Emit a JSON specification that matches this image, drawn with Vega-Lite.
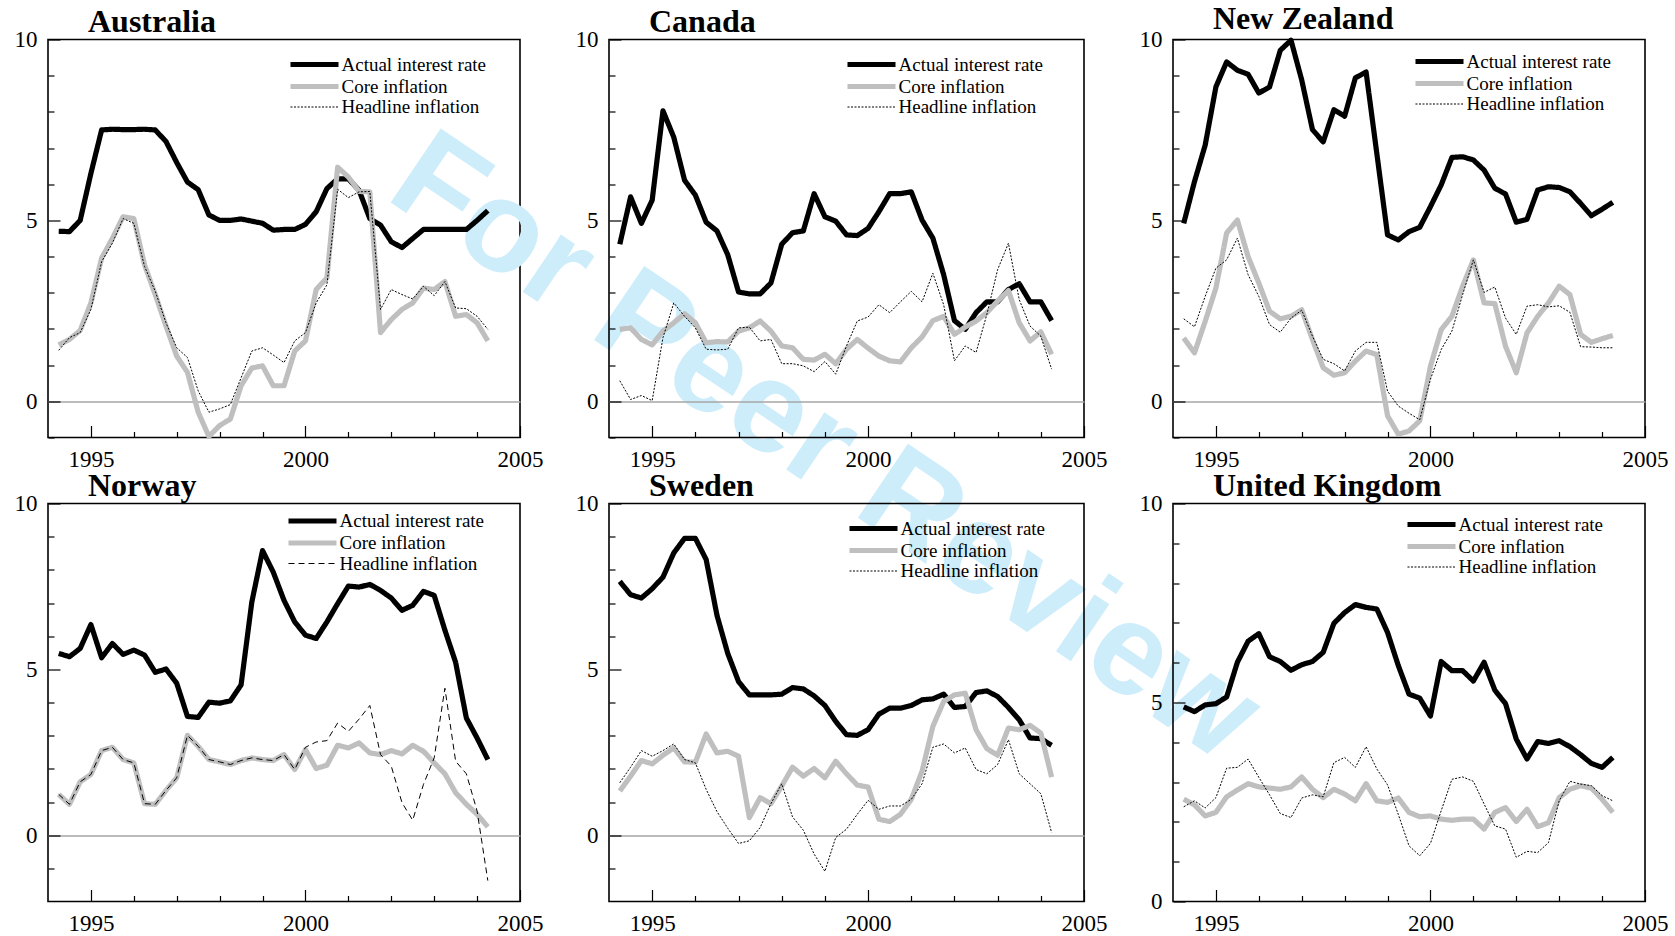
{
"$schema":"https://vega.github.io/schema/vega-lite/v6.json",
"padding":{"left":13,"top":1.5,"right":5,"bottom":0},
"data":{"values":[
{"country":"Australia","date":1994.25,"rate":4.7,"core":1.56,"headline":1.41},
{"country":"Australia","date":1994.5,"rate":4.69,"core":1.71,"headline":1.76},
{"country":"Australia","date":1994.75,"rate":5.0,"core":1.96,"headline":1.9},
{"country":"Australia","date":1995,"rate":6.3,"core":2.72,"headline":2.54},
{"country":"Australia","date":1995.25,"rate":7.5,"core":3.96,"headline":3.86},
{"country":"Australia","date":1995.5,"rate":7.52,"core":4.5,"headline":4.37},
{"country":"Australia","date":1995.75,"rate":7.51,"core":5.1,"headline":5.05},
{"country":"Australia","date":1996,"rate":7.51,"core":5.05,"headline":4.92},
{"country":"Australia","date":1996.25,"rate":7.52,"core":3.77,"headline":3.73},
{"country":"Australia","date":1996.5,"rate":7.5,"core":2.95,"headline":3.04},
{"country":"Australia","date":1996.75,"rate":7.18,"core":2.08,"headline":2.17},
{"country":"Australia","date":1997,"rate":6.6,"core":1.25,"headline":1.48},
{"country":"Australia","date":1997.25,"rate":6.06,"core":0.8,"headline":1.21},
{"country":"Australia","date":1997.5,"rate":5.85,"core":-0.3,"headline":0.29},
{"country":"Australia","date":1997.75,"rate":5.15,"core":-0.97,"headline":-0.3},
{"country":"Australia","date":1998,"rate":5.0,"core":-0.67,"headline":-0.21},
{"country":"Australia","date":1998.25,"rate":5.0,"core":-0.49,"headline":-0.09},
{"country":"Australia","date":1998.5,"rate":5.04,"core":0.43,"headline":0.65},
{"country":"Australia","date":1998.75,"rate":4.98,"core":0.92,"headline":1.39},
{"country":"Australia","date":1999,"rate":4.92,"core":0.98,"headline":1.48},
{"country":"Australia","date":1999.25,"rate":4.73,"core":0.43,"headline":1.28},
{"country":"Australia","date":1999.5,"rate":4.75,"core":0.43,"headline":1.07},
{"country":"Australia","date":1999.75,"rate":4.75,"core":1.39,"headline":1.67},
{"country":"Australia","date":2000,"rate":4.89,"core":1.67,"headline":1.9},
{"country":"Australia","date":2000.25,"rate":5.24,"core":3.09,"headline":2.72},
{"country":"Australia","date":2000.5,"rate":5.88,"core":3.41,"headline":3.22},
{"country":"Australia","date":2000.75,"rate":6.15,"core":6.47,"headline":5.86},
{"country":"Australia","date":2001,"rate":6.15,"core":6.2,"headline":5.63},
{"country":"Australia","date":2001.25,"rate":5.83,"core":5.8,"headline":5.79},
{"country":"Australia","date":2001.5,"rate":5.05,"core":5.79,"headline":5.8},
{"country":"Australia","date":2001.75,"rate":4.87,"core":1.9,"headline":2.54},
{"country":"Australia","date":2002,"rate":4.41,"core":2.26,"headline":3.09},
{"country":"Australia","date":2002.25,"rate":4.25,"core":2.54,"headline":2.95},
{"country":"Australia","date":2002.5,"rate":4.5,"core":2.72,"headline":2.83},
{"country":"Australia","date":2002.75,"rate":4.75,"core":3.13,"headline":3.18},
{"country":"Australia","date":2003,"rate":4.75,"core":3.09,"headline":2.92},
{"country":"Australia","date":2003.25,"rate":4.75,"core":3.31,"headline":3.31},
{"country":"Australia","date":2003.5,"rate":4.75,"core":2.35,"headline":2.58},
{"country":"Australia","date":2003.75,"rate":4.75,"core":2.4,"headline":2.56},
{"country":"Australia","date":2004,"rate":5.0,"core":2.17,"headline":2.35},
{"country":"Australia","date":2004.25,"rate":5.27,"core":1.67,"headline":1.99},
{"country":"Canada","date":1994.25,"rate":4.34,"core":1.99,"headline":0.57},
{"country":"Canada","date":1994.5,"rate":5.65,"core":2.03,"headline":0.05},
{"country":"Canada","date":1994.75,"rate":4.92,"core":1.71,"headline":0.16},
{"country":"Canada","date":1995,"rate":5.56,"core":1.56,"headline":0.02},
{"country":"Canada","date":1995.25,"rate":8.03,"core":1.94,"headline":1.76},
{"country":"Canada","date":1995.5,"rate":7.3,"core":2.17,"headline":2.72},
{"country":"Canada","date":1995.75,"rate":6.11,"core":2.42,"headline":2.35},
{"country":"Canada","date":1996,"rate":5.7,"core":2.17,"headline":2.03},
{"country":"Canada","date":1996.25,"rate":4.95,"core":1.62,"headline":1.44},
{"country":"Canada","date":1996.5,"rate":4.71,"core":1.65,"headline":1.42},
{"country":"Canada","date":1996.75,"rate":4.05,"core":1.64,"headline":1.44},
{"country":"Canada","date":1997,"rate":3.02,"core":1.94,"headline":2.03},
{"country":"Canada","date":1997.25,"rate":2.97,"core":2.03,"headline":2.05},
{"country":"Canada","date":1997.5,"rate":2.97,"core":2.22,"headline":1.67},
{"country":"Canada","date":1997.75,"rate":3.27,"core":1.94,"headline":1.71},
{"country":"Canada","date":1998,"rate":4.34,"core":1.53,"headline":1.04},
{"country":"Canada","date":1998.25,"rate":4.66,"core":1.48,"headline":1.04},
{"country":"Canada","date":1998.5,"rate":4.71,"core":1.16,"headline":0.98},
{"country":"Canada","date":1998.75,"rate":5.74,"core":1.14,"headline":0.82},
{"country":"Canada","date":1999,"rate":5.1,"core":1.3,"headline":1.1},
{"country":"Canada","date":1999.25,"rate":4.98,"core":1.04,"headline":0.75},
{"country":"Canada","date":1999.5,"rate":4.6,"core":1.44,"headline":1.53},
{"country":"Canada","date":1999.75,"rate":4.58,"core":1.71,"headline":2.22},
{"country":"Canada","date":2000,"rate":4.78,"core":1.47,"headline":2.33},
{"country":"Canada","date":2000.25,"rate":5.24,"core":1.25,"headline":2.67},
{"country":"Canada","date":2000.5,"rate":5.74,"core":1.12,"headline":2.45},
{"country":"Canada","date":2000.75,"rate":5.74,"core":1.09,"headline":2.75},
{"country":"Canada","date":2001,"rate":5.79,"core":1.48,"headline":3.04},
{"country":"Canada","date":2001.25,"rate":5.01,"core":1.78,"headline":2.75},
{"country":"Canada","date":2001.5,"rate":4.51,"core":2.23,"headline":3.54},
{"country":"Canada","date":2001.75,"rate":3.5,"core":2.35,"headline":2.67},
{"country":"Canada","date":2002,"rate":2.23,"core":1.85,"headline":1.12},
{"country":"Canada","date":2002.25,"rate":1.99,"core":2.05,"headline":1.53},
{"country":"Canada","date":2002.5,"rate":2.45,"core":2.22,"headline":1.35},
{"country":"Canada","date":2002.75,"rate":2.75,"core":2.45,"headline":2.4},
{"country":"Canada","date":2003,"rate":2.75,"core":2.77,"headline":3.64},
{"country":"Canada","date":2003.25,"rate":3.09,"core":3.06,"headline":4.37},
{"country":"Canada","date":2003.5,"rate":3.25,"core":2.17,"headline":2.81},
{"country":"Canada","date":2003.75,"rate":2.75,"core":1.67,"headline":2.08},
{"country":"Canada","date":2004,"rate":2.75,"core":1.92,"headline":1.8},
{"country":"Canada","date":2004.25,"rate":2.23,"core":1.3,"headline":0.89},
{"country":"New Zealand","date":1994.25,"rate":4.92,"core":1.75,"headline":2.28},
{"country":"New Zealand","date":1994.5,"rate":6.07,"core":1.34,"headline":2.06},
{"country":"New Zealand","date":1994.75,"rate":7.08,"core":2.21,"headline":2.9},
{"country":"New Zealand","date":1995,"rate":8.69,"core":3.13,"headline":3.68},
{"country":"New Zealand","date":1995.25,"rate":9.38,"core":4.65,"headline":3.91},
{"country":"New Zealand","date":1995.5,"rate":9.15,"core":5.01,"headline":4.51},
{"country":"New Zealand","date":1995.75,"rate":9.04,"core":4.0,"headline":3.5},
{"country":"New Zealand","date":1996,"rate":8.52,"core":3.27,"headline":2.9},
{"country":"New Zealand","date":1996.25,"rate":8.69,"core":2.49,"headline":2.12},
{"country":"New Zealand","date":1996.5,"rate":9.7,"core":2.28,"headline":1.91},
{"country":"New Zealand","date":1996.75,"rate":9.98,"core":2.35,"headline":2.3},
{"country":"New Zealand","date":1997,"rate":8.88,"core":2.53,"headline":2.52},
{"country":"New Zealand","date":1997.25,"rate":7.51,"core":1.71,"headline":1.8},
{"country":"New Zealand","date":1997.5,"rate":7.17,"core":0.93,"headline":1.16},
{"country":"New Zealand","date":1997.75,"rate":8.06,"core":0.72,"headline":1.04},
{"country":"New Zealand","date":1998,"rate":7.88,"core":0.79,"headline":0.84},
{"country":"New Zealand","date":1998.25,"rate":8.94,"core":1.11,"headline":1.39},
{"country":"New Zealand","date":1998.5,"rate":9.1,"core":1.39,"headline":1.63},
{"country":"New Zealand","date":1998.75,"rate":6.85,"core":1.29,"headline":1.63},
{"country":"New Zealand","date":1999,"rate":4.6,"core":-0.4,"headline":0.28},
{"country":"New Zealand","date":1999.25,"rate":4.46,"core":-0.91,"headline":-0.13},
{"country":"New Zealand","date":1999.5,"rate":4.69,"core":-0.82,"headline":-0.33},
{"country":"New Zealand","date":1999.75,"rate":4.81,"core":-0.54,"headline":-0.51},
{"country":"New Zealand","date":2000,"rate":5.38,"core":0.97,"headline":0.61},
{"country":"New Zealand","date":2000.25,"rate":5.98,"core":1.98,"headline":1.43},
{"country":"New Zealand","date":2000.5,"rate":6.74,"core":2.35,"headline":1.94},
{"country":"New Zealand","date":2000.75,"rate":6.76,"core":3.18,"headline":2.95},
{"country":"New Zealand","date":2001,"rate":6.67,"core":3.91,"headline":3.91},
{"country":"New Zealand","date":2001.25,"rate":6.39,"core":2.72,"headline":3.01},
{"country":"New Zealand","date":2001.5,"rate":5.89,"core":2.7,"headline":3.16},
{"country":"New Zealand","date":2001.75,"rate":5.73,"core":1.52,"headline":2.3},
{"country":"New Zealand","date":2002,"rate":4.95,"core":0.79,"headline":1.85},
{"country":"New Zealand","date":2002.25,"rate":5.03,"core":1.89,"headline":2.63},
{"country":"New Zealand","date":2002.5,"rate":5.84,"core":2.35,"headline":2.67},
{"country":"New Zealand","date":2002.75,"rate":5.93,"core":2.72,"headline":2.61},
{"country":"New Zealand","date":2003,"rate":5.91,"core":3.18,"headline":2.64},
{"country":"New Zealand","date":2003.25,"rate":5.79,"core":2.95,"headline":2.46},
{"country":"New Zealand","date":2003.5,"rate":5.47,"core":1.85,"headline":1.51},
{"country":"New Zealand","date":2003.75,"rate":5.13,"core":1.63,"headline":1.5},
{"country":"New Zealand","date":2004,"rate":5.31,"core":1.73,"headline":1.48},
{"country":"New Zealand","date":2004.25,"rate":5.5,"core":1.82,"headline":1.48},
{"country":"Norway","date":1994.25,"rate":5.48,"core":1.23,"headline":1.23},
{"country":"Norway","date":1994.5,"rate":5.38,"core":0.93,"headline":0.93},
{"country":"Norway","date":1994.75,"rate":5.63,"core":1.61,"headline":1.61},
{"country":"Norway","date":1995,"rate":6.35,"core":1.83,"headline":1.83},
{"country":"Norway","date":1995.25,"rate":5.35,"core":2.55,"headline":2.55},
{"country":"Norway","date":1995.5,"rate":5.78,"core":2.65,"headline":2.65},
{"country":"Norway","date":1995.75,"rate":5.45,"core":2.28,"headline":2.28},
{"country":"Norway","date":1996,"rate":5.58,"core":2.18,"headline":2.18},
{"country":"Norway","date":1996.25,"rate":5.43,"core":0.95,"headline":0.95},
{"country":"Norway","date":1996.5,"rate":4.91,"core":0.93,"headline":0.93},
{"country":"Norway","date":1996.75,"rate":5.01,"core":1.35,"headline":1.35},
{"country":"Norway","date":1997,"rate":4.58,"core":1.73,"headline":1.73},
{"country":"Norway","date":1997.25,"rate":3.58,"core":3.01,"headline":3.01},
{"country":"Norway","date":1997.5,"rate":3.55,"core":2.68,"headline":2.68},
{"country":"Norway","date":1997.75,"rate":4.01,"core":2.28,"headline":2.28},
{"country":"Norway","date":1998,"rate":3.98,"core":2.21,"headline":2.21},
{"country":"Norway","date":1998.25,"rate":4.05,"core":2.13,"headline":2.13},
{"country":"Norway","date":1998.5,"rate":4.53,"core":2.25,"headline":2.25},
{"country":"Norway","date":1998.75,"rate":7.03,"core":2.33,"headline":2.33},
{"country":"Norway","date":1999,"rate":8.58,"core":2.28,"headline":2.28},
{"country":"Norway","date":1999.25,"rate":7.93,"core":2.25,"headline":2.25},
{"country":"Norway","date":1999.5,"rate":7.08,"core":2.43,"headline":2.43},
{"country":"Norway","date":1999.75,"rate":6.43,"core":1.98,"headline":1.98},
{"country":"Norway","date":2000,"rate":6.03,"core":2.58,"headline":2.65},
{"country":"Norway","date":2000.25,"rate":5.93,"core":2.01,"headline":2.81},
{"country":"Norway","date":2000.5,"rate":6.43,"core":2.11,"headline":2.85},
{"country":"Norway","date":2000.75,"rate":6.98,"core":2.71,"headline":3.38},
{"country":"Norway","date":2001,"rate":7.51,"core":2.63,"headline":3.13},
{"country":"Norway","date":2001.25,"rate":7.48,"core":2.78,"headline":3.5},
{"country":"Norway","date":2001.5,"rate":7.56,"core":2.48,"headline":3.91},
{"country":"Norway","date":2001.75,"rate":7.38,"core":2.43,"headline":2.43},
{"country":"Norway","date":2002,"rate":7.15,"core":2.55,"headline":2.08},
{"country":"Norway","date":2002.25,"rate":6.78,"core":2.45,"headline":0.98},
{"country":"Norway","date":2002.5,"rate":6.93,"core":2.71,"headline":0.45},
{"country":"Norway","date":2002.75,"rate":7.35,"core":2.53,"headline":1.53},
{"country":"Norway","date":2003,"rate":7.23,"core":2.18,"headline":2.33},
{"country":"Norway","date":2003.25,"rate":6.18,"core":1.85,"headline":4.43},
{"country":"Norway","date":2003.5,"rate":5.21,"core":1.28,"headline":2.23},
{"country":"Norway","date":2003.75,"rate":3.53,"core":0.93,"headline":1.85},
{"country":"Norway","date":2004,"rate":2.93,"core":0.63,"headline":0.73},
{"country":"Norway","date":2004.25,"rate":2.28,"core":0.25,"headline":-1.37},
{"country":"Sweden","date":1994.25,"rate":7.65,"core":1.33,"headline":1.58},
{"country":"Sweden","date":1994.5,"rate":7.25,"core":1.78,"headline":2.05},
{"country":"Sweden","date":1994.75,"rate":7.15,"core":2.25,"headline":2.55},
{"country":"Sweden","date":1995,"rate":7.43,"core":2.15,"headline":2.38},
{"country":"Sweden","date":1995.25,"rate":7.78,"core":2.41,"headline":2.55},
{"country":"Sweden","date":1995.5,"rate":8.51,"core":2.63,"headline":2.75},
{"country":"Sweden","date":1995.75,"rate":8.95,"core":2.21,"headline":2.28},
{"country":"Sweden","date":1996,"rate":8.95,"core":2.2,"headline":2.18},
{"country":"Sweden","date":1996.25,"rate":8.31,"core":3.05,"headline":1.38},
{"country":"Sweden","date":1996.5,"rate":6.63,"core":2.48,"headline":0.71},
{"country":"Sweden","date":1996.75,"rate":5.48,"core":2.53,"headline":0.21},
{"country":"Sweden","date":1997,"rate":4.63,"core":2.38,"headline":-0.25},
{"country":"Sweden","date":1997.25,"rate":4.23,"core":0.53,"headline":-0.17},
{"country":"Sweden","date":1997.5,"rate":4.23,"core":1.13,"headline":0.23},
{"country":"Sweden","date":1997.75,"rate":4.23,"core":0.95,"headline":0.95},
{"country":"Sweden","date":1998,"rate":4.25,"core":1.48,"headline":1.55},
{"country":"Sweden","date":1998.25,"rate":4.45,"core":2.05,"headline":0.55},
{"country":"Sweden","date":1998.5,"rate":4.41,"core":1.78,"headline":0.15},
{"country":"Sweden","date":1998.75,"rate":4.2,"core":2.01,"headline":-0.57},
{"country":"Sweden","date":1999,"rate":3.91,"core":1.73,"headline":-1.09},
{"country":"Sweden","date":1999.25,"rate":3.43,"core":2.23,"headline":-0.07},
{"country":"Sweden","date":1999.5,"rate":3.03,"core":1.85,"headline":0.18},
{"country":"Sweden","date":1999.75,"rate":3.01,"core":1.51,"headline":0.63},
{"country":"Sweden","date":2000,"rate":3.18,"core":1.45,"headline":1.05},
{"country":"Sweden","date":2000.25,"rate":3.65,"core":0.48,"headline":0.78},
{"country":"Sweden","date":2000.5,"rate":3.83,"core":0.41,"headline":0.88},
{"country":"Sweden","date":2000.75,"rate":3.83,"core":0.63,"headline":0.88},
{"country":"Sweden","date":2001,"rate":3.91,"core":1.08,"headline":1.08},
{"country":"Sweden","date":2001.25,"rate":4.08,"core":1.93,"headline":1.55},
{"country":"Sweden","date":2001.5,"rate":4.11,"core":3.28,"headline":2.65},
{"country":"Sweden","date":2001.75,"rate":4.25,"core":4.03,"headline":2.75},
{"country":"Sweden","date":2002,"rate":3.85,"core":4.23,"headline":2.48},
{"country":"Sweden","date":2002.25,"rate":3.88,"core":4.28,"headline":2.63},
{"country":"Sweden","date":2002.5,"rate":4.3,"core":3.18,"headline":1.98},
{"country":"Sweden","date":2002.75,"rate":4.35,"core":2.61,"headline":1.85},
{"country":"Sweden","date":2003,"rate":4.18,"core":2.41,"headline":2.13},
{"country":"Sweden","date":2003.25,"rate":3.85,"core":3.23,"headline":2.88},
{"country":"Sweden","date":2003.5,"rate":3.48,"core":3.18,"headline":1.85},
{"country":"Sweden","date":2003.75,"rate":2.93,"core":3.31,"headline":1.55},
{"country":"Sweden","date":2004,"rate":2.91,"core":3.08,"headline":1.25},
{"country":"Sweden","date":2004.25,"rate":2.71,"core":1.75,"headline":0.08},
{"country":"United Kingdom","date":1994.25,"rate":4.89,"core":2.57,"headline":2.38},
{"country":"United Kingdom","date":1994.5,"rate":4.77,"core":2.43,"headline":2.53},
{"country":"United Kingdom","date":1994.75,"rate":4.94,"core":2.15,"headline":2.35},
{"country":"United Kingdom","date":1995,"rate":4.97,"core":2.24,"headline":2.61},
{"country":"United Kingdom","date":1995.25,"rate":5.14,"core":2.63,"headline":3.35},
{"country":"United Kingdom","date":1995.5,"rate":6.01,"core":2.8,"headline":3.37},
{"country":"United Kingdom","date":1995.75,"rate":6.54,"core":2.96,"headline":3.58},
{"country":"United Kingdom","date":1996,"rate":6.73,"core":2.88,"headline":3.12},
{"country":"United Kingdom","date":1996.25,"rate":6.15,"core":2.85,"headline":2.68},
{"country":"United Kingdom","date":1996.5,"rate":6.03,"core":2.82,"headline":2.21},
{"country":"United Kingdom","date":1996.75,"rate":5.81,"core":2.88,"headline":2.11},
{"country":"United Kingdom","date":1997,"rate":5.95,"core":3.13,"headline":2.6},
{"country":"United Kingdom","date":1997.25,"rate":6.03,"core":2.82,"headline":2.68},
{"country":"United Kingdom","date":1997.5,"rate":6.26,"core":2.61,"headline":2.63},
{"country":"United Kingdom","date":1997.75,"rate":6.99,"core":2.82,"headline":3.49},
{"country":"United Kingdom","date":1998,"rate":7.26,"core":2.7,"headline":3.62},
{"country":"United Kingdom","date":1998.25,"rate":7.46,"core":2.53,"headline":3.37},
{"country":"United Kingdom","date":1998.5,"rate":7.39,"core":2.96,"headline":3.89},
{"country":"United Kingdom","date":1998.75,"rate":7.35,"core":2.53,"headline":3.33},
{"country":"United Kingdom","date":1999,"rate":6.76,"core":2.49,"headline":2.93},
{"country":"United Kingdom","date":1999.25,"rate":5.93,"core":2.6,"headline":2.19},
{"country":"United Kingdom","date":1999.5,"rate":5.21,"core":2.24,"headline":1.4},
{"country":"United Kingdom","date":1999.75,"rate":5.11,"core":2.13,"headline":1.15},
{"country":"United Kingdom","date":2000,"rate":4.66,"core":2.15,"headline":1.46},
{"country":"United Kingdom","date":2000.25,"rate":6.03,"core":2.07,"headline":2.28},
{"country":"United Kingdom","date":2000.5,"rate":5.8,"core":2.04,"headline":3.07},
{"country":"United Kingdom","date":2000.75,"rate":5.8,"core":2.07,"headline":3.13},
{"country":"United Kingdom","date":2001,"rate":5.54,"core":2.07,"headline":3.02},
{"country":"United Kingdom","date":2001.25,"rate":6.01,"core":1.82,"headline":2.45},
{"country":"United Kingdom","date":2001.5,"rate":5.31,"core":2.24,"headline":1.9},
{"country":"United Kingdom","date":2001.75,"rate":4.97,"core":2.36,"headline":1.82},
{"country":"United Kingdom","date":2002,"rate":4.08,"core":2.01,"headline":1.11},
{"country":"United Kingdom","date":2002.25,"rate":3.58,"core":2.32,"headline":1.26},
{"country":"United Kingdom","date":2002.5,"rate":4.02,"core":1.88,"headline":1.23},
{"country":"United Kingdom","date":2002.75,"rate":3.97,"core":1.98,"headline":1.48},
{"country":"United Kingdom","date":2003,"rate":4.04,"core":2.61,"headline":2.53},
{"country":"United Kingdom","date":2003.25,"rate":3.89,"core":2.82,"headline":3.02},
{"country":"United Kingdom","date":2003.5,"rate":3.69,"core":2.91,"headline":2.95},
{"country":"United Kingdom","date":2003.75,"rate":3.47,"core":2.85,"headline":2.91},
{"country":"United Kingdom","date":2004,"rate":3.37,"core":2.57,"headline":2.66},
{"country":"United Kingdom","date":2004.25,"rate":3.62,"core":2.24,"headline":2.53}
]},
"columns":3,
"spacing":{"row":66,"column":89},
"align":"each",
"bounds":"flush",
"resolve":{"scale":{"x":"independent","y":"independent","color":"independent","strokeWidth":"independent","strokeDash":"independent"},"legend":{"color":"independent","strokeWidth":"independent","strokeDash":"independent"}},
"concat":[
{"title":{"text":"Australia"},"width":472,"height":398,"layer":[
 {"data":{"values":[{}]},"mark":{"type":"text","text":"For Peer Review","angle":34,"font":"Liberation Sans","fontWeight":"bold","fontSize":130,"color":"#cdedfb","align":"center","baseline":"middle"},
  "encoding":{
   "x":{"datum":2012.1,"type":"quantitative","scale":{"domain":[1994,2005]},"axis":{"title":null,"values":[1995,1996,1997,1998,1999,2000,2001,2002,2003,2004,2005],"labelExpr":"datum.value % 5 === 0 ? '' + datum.value : ''","tickSize":{"condition":{"test":"datum.value % 5 === 0","value":-12},"value":-6}}},
   "y":{"datum":-1.3,"type":"quantitative","scale":{"domain":[-1,10]},"axis":{"title":null,"values":[-1,0,1,2,3,4,5,6,7,8,9,10],"labelExpr":"datum.value % 5 === 0 ? '' + datum.value : ''","tickSize":{"condition":{"test":"datum.value % 5 === 0","value":-12},"value":-6},"grid":true,"gridColor":"#a6a6a6","gridWidth":1.5,"gridOpacity":{"condition":{"test":"datum.value === 0","value":1},"value":0}}}}},
 {"transform":[{"filter":"datum.country === 'Australia'"},{"fold":["rate","core","headline"],"as":["series","value"]}],
  "mark":{"type":"line","strokeJoin":"round"},
  "encoding":{
   "x":{"field":"date","type":"quantitative","scale":{"domain":[1994,2005]},"axis":{"title":null,"values":[1995,1996,1997,1998,1999,2000,2001,2002,2003,2004,2005],"labelExpr":"datum.value % 5 === 0 ? '' + datum.value : ''","tickSize":{"condition":{"test":"datum.value % 5 === 0","value":-12},"value":-6}}},
   "y":{"field":"value","type":"quantitative","scale":{"domain":[-1,10]},"axis":{"title":null,"values":[-1,0,1,2,3,4,5,6,7,8,9,10],"labelExpr":"datum.value % 5 === 0 ? '' + datum.value : ''","tickSize":{"condition":{"test":"datum.value % 5 === 0","value":-12},"value":-6},"grid":true,"gridColor":"#a6a6a6","gridWidth":1.5,"gridOpacity":{"condition":{"test":"datum.value === 0","value":1},"value":0}}},
   "color":{"field":"series","type":"nominal","scale":{"domain":["rate","core","headline"],"range":["#000000","#bfbfbf","#000000"]},"legend":{"orient":"none","legendX":242,"legendY":15,"title":null,"symbolType":"M-3.43,0H3.43","labelExpr":"datum.label === 'rate' ? 'Actual interest rate' : datum.label === 'core' ? 'Core inflation' : 'Headline inflation'"}},
   "strokeWidth":{"field":"series","type":"nominal","scale":{"type":"ordinal","domain":["rate","core","headline"],"range":[5.2,5.2,1]}},
   "strokeDash":{"field":"series","type":"nominal","scale":{"domain":["rate","core","headline"],"range":[[1,0],[1,0],[2,1.5]]}}
  }}
]},
{"title":{"text":"Canada"},"width":475,"height":398,"layer":[
 {"transform":[{"filter":"datum.country === 'Canada'"},{"fold":["rate","core","headline"],"as":["series","value"]}],
  "mark":{"type":"line","strokeJoin":"round"},
  "encoding":{
   "x":{"field":"date","type":"quantitative","scale":{"domain":[1994,2005]},"axis":{"title":null,"values":[1995,1996,1997,1998,1999,2000,2001,2002,2003,2004,2005],"labelExpr":"datum.value % 5 === 0 ? '' + datum.value : ''","tickSize":{"condition":{"test":"datum.value % 5 === 0","value":-12},"value":-6}}},
   "y":{"field":"value","type":"quantitative","scale":{"domain":[-1,10]},"axis":{"title":null,"values":[-1,0,1,2,3,4,5,6,7,8,9,10],"labelExpr":"datum.value % 5 === 0 ? '' + datum.value : ''","tickSize":{"condition":{"test":"datum.value % 5 === 0","value":-12},"value":-6},"grid":true,"gridColor":"#a6a6a6","gridWidth":1.5,"gridOpacity":{"condition":{"test":"datum.value === 0","value":1},"value":0}}},
   "color":{"field":"series","type":"nominal","scale":{"domain":["rate","core","headline"],"range":["#000000","#bfbfbf","#000000"]},"legend":{"orient":"none","legendX":238,"legendY":15,"title":null,"symbolType":"M-3.43,0H3.43","labelExpr":"datum.label === 'rate' ? 'Actual interest rate' : datum.label === 'core' ? 'Core inflation' : 'Headline inflation'"}},
   "strokeWidth":{"field":"series","type":"nominal","scale":{"type":"ordinal","domain":["rate","core","headline"],"range":[5.2,5.2,1]}},
   "strokeDash":{"field":"series","type":"nominal","scale":{"domain":["rate","core","headline"],"range":[[1,0],[1,0],[2,1.5]]}}
  }}
]},
{"title":{"text":"New Zealand","offset":-7},"width":472,"height":398,"layer":[
 {"transform":[{"filter":"datum.country === 'New Zealand'"},{"fold":["rate","core","headline"],"as":["series","value"]}],
  "mark":{"type":"line","strokeJoin":"round"},
  "encoding":{
   "x":{"field":"date","type":"quantitative","scale":{"domain":[1994,2005]},"axis":{"title":null,"values":[1995,1996,1997,1998,1999,2000,2001,2002,2003,2004,2005],"labelExpr":"datum.value % 5 === 0 ? '' + datum.value : ''","tickSize":{"condition":{"test":"datum.value % 5 === 0","value":-12},"value":-6}}},
   "y":{"field":"value","type":"quantitative","scale":{"domain":[-1,10]},"axis":{"title":null,"values":[-1,0,1,2,3,4,5,6,7,8,9,10],"labelExpr":"datum.value % 5 === 0 ? '' + datum.value : ''","tickSize":{"condition":{"test":"datum.value % 5 === 0","value":-12},"value":-6},"grid":true,"gridColor":"#a6a6a6","gridWidth":1.5,"gridOpacity":{"condition":{"test":"datum.value === 0","value":1},"value":0}}},
   "color":{"field":"series","type":"nominal","scale":{"domain":["rate","core","headline"],"range":["#000000","#bfbfbf","#000000"]},"legend":{"orient":"none","legendX":242,"legendY":12,"title":null,"symbolType":"M-3.43,0H3.43","labelExpr":"datum.label === 'rate' ? 'Actual interest rate' : datum.label === 'core' ? 'Core inflation' : 'Headline inflation'"}},
   "strokeWidth":{"field":"series","type":"nominal","scale":{"type":"ordinal","domain":["rate","core","headline"],"range":[5.2,5.2,1]}},
   "strokeDash":{"field":"series","type":"nominal","scale":{"domain":["rate","core","headline"],"range":[[1,0],[1,0],[2,1.5]]}}
  }}
]},
{"title":{"text":"Norway"},"width":472,"height":398,"layer":[
 {"transform":[{"filter":"datum.country === 'Norway'"},{"fold":["rate","core","headline"],"as":["series","value"]}],
  "mark":{"type":"line","strokeJoin":"round"},
  "encoding":{
   "x":{"field":"date","type":"quantitative","scale":{"domain":[1994,2005]},"axis":{"title":null,"values":[1995,1996,1997,1998,1999,2000,2001,2002,2003,2004,2005],"labelExpr":"datum.value % 5 === 0 ? '' + datum.value : ''","tickSize":{"condition":{"test":"datum.value % 5 === 0","value":-12},"value":-6}}},
   "y":{"field":"value","type":"quantitative","scale":{"domain":[-2,10]},"axis":{"title":null,"values":[-1,0,1,2,3,4,5,6,7,8,9,10],"labelExpr":"datum.value % 5 === 0 ? '' + datum.value : ''","tickSize":{"condition":{"test":"datum.value % 5 === 0","value":-12},"value":-6},"grid":true,"gridColor":"#a6a6a6","gridWidth":1.5,"gridOpacity":{"condition":{"test":"datum.value === 0","value":1},"value":0}}},
   "color":{"field":"series","type":"nominal","scale":{"domain":["rate","core","headline"],"range":["#000000","#bfbfbf","#000000"]},"legend":{"orient":"none","legendX":240,"legendY":7.5,"title":null,"symbolType":"M-3.43,0H3.43","labelExpr":"datum.label === 'rate' ? 'Actual interest rate' : datum.label === 'core' ? 'Core inflation' : 'Headline inflation'"}},
   "strokeWidth":{"field":"series","type":"nominal","scale":{"type":"ordinal","domain":["rate","core","headline"],"range":[5.2,5.2,1]}},
   "strokeDash":{"field":"series","type":"nominal","scale":{"domain":["rate","core","headline"],"range":[[1,0],[1,0],[6,4]]}}
  }}
]},
{"title":{"text":"Sweden"},"width":475,"height":398,"layer":[
 {"transform":[{"filter":"datum.country === 'Sweden'"},{"fold":["rate","core","headline"],"as":["series","value"]}],
  "mark":{"type":"line","strokeJoin":"round"},
  "encoding":{
   "x":{"field":"date","type":"quantitative","scale":{"domain":[1994,2005]},"axis":{"title":null,"values":[1995,1996,1997,1998,1999,2000,2001,2002,2003,2004,2005],"labelExpr":"datum.value % 5 === 0 ? '' + datum.value : ''","tickSize":{"condition":{"test":"datum.value % 5 === 0","value":-12},"value":-6}}},
   "y":{"field":"value","type":"quantitative","scale":{"domain":[-2,10]},"axis":{"title":null,"values":[-1,0,1,2,3,4,5,6,7,8,9,10],"labelExpr":"datum.value % 5 === 0 ? '' + datum.value : ''","tickSize":{"condition":{"test":"datum.value % 5 === 0","value":-12},"value":-6},"grid":true,"gridColor":"#a6a6a6","gridWidth":1.5,"gridOpacity":{"condition":{"test":"datum.value === 0","value":1},"value":0}}},
   "color":{"field":"series","type":"nominal","scale":{"domain":["rate","core","headline"],"range":["#000000","#bfbfbf","#000000"]},"legend":{"orient":"none","legendX":240,"legendY":15,"title":null,"symbolType":"M-3.43,0H3.43","labelExpr":"datum.label === 'rate' ? 'Actual interest rate' : datum.label === 'core' ? 'Core inflation' : 'Headline inflation'"}},
   "strokeWidth":{"field":"series","type":"nominal","scale":{"type":"ordinal","domain":["rate","core","headline"],"range":[5.2,5.2,1]}},
   "strokeDash":{"field":"series","type":"nominal","scale":{"domain":["rate","core","headline"],"range":[[1,0],[1,0],[2,1.5]]}}
  }}
]},
{"title":{"text":"United Kingdom"},"width":472,"height":398,"layer":[
 {"transform":[{"filter":"datum.country === 'United Kingdom'"},{"fold":["rate","core","headline"],"as":["series","value"]}],
  "mark":{"type":"line","strokeJoin":"round"},
  "encoding":{
   "x":{"field":"date","type":"quantitative","scale":{"domain":[1994,2005]},"axis":{"title":null,"values":[1995,1996,1997,1998,1999,2000,2001,2002,2003,2004,2005],"labelExpr":"datum.value % 5 === 0 ? '' + datum.value : ''","tickSize":{"condition":{"test":"datum.value % 5 === 0","value":-12},"value":-6}}},
   "y":{"field":"value","type":"quantitative","scale":{"domain":[0,10]},"axis":{"title":null,"values":[0,1,2,3,4,5,6,7,8,9,10],"labelExpr":"datum.value % 5 === 0 ? '' + datum.value : ''","tickSize":{"condition":{"test":"datum.value % 5 === 0","value":-12},"value":-6}}},
   "color":{"field":"series","type":"nominal","scale":{"domain":["rate","core","headline"],"range":["#000000","#bfbfbf","#000000"]},"legend":{"orient":"none","legendX":234,"legendY":11,"title":null,"symbolType":"M-3.43,0H3.43","labelExpr":"datum.label === 'rate' ? 'Actual interest rate' : datum.label === 'core' ? 'Core inflation' : 'Headline inflation'"}},
   "strokeWidth":{"field":"series","type":"nominal","scale":{"type":"ordinal","domain":["rate","core","headline"],"range":[5.2,5.2,1]}},
   "strokeDash":{"field":"series","type":"nominal","scale":{"domain":["rate","core","headline"],"range":[[1,0],[1,0],[2,1.5]]}}
  }}
]}
],
"config":{
 "view":{"stroke":"#000000","strokeWidth":1.6},
 "axis":{"domain":false,"grid":false,"labelFont":"Liberation Serif","labelFontSize":23,"labelColor":"#000000","tickColor":"#000000","tickWidth":1.2,"labelPadding":23,"labelOverlap":false,"labelFlush":false},
 "legend":{"labelFont":"Liberation Serif","labelFontSize":19,"labelColor":"#000000","padding":0,"rowPadding":0,"symbolOffset":14.5,"labelOffset":17,"symbolSize":196},
 "title":{"font":"Liberation Serif","fontSize":32,"fontWeight":"bold","color":"#000000","anchor":"start","frame":"group","dx":40,"baseline":"alphabetic","offset":-10.5}
}
}
